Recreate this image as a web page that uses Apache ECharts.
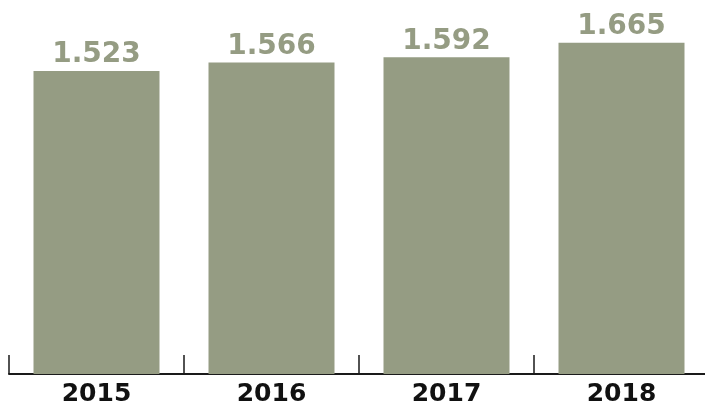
<!DOCTYPE html>
<html>
<head>
<meta charset="utf-8">
<script src="https://cdn.jsdelivr.net/npm/echarts@6/dist/echarts.min.js"></script>
<style>
  html, body { margin: 0; padding: 0; background: #fff; }
  #chart { width: 705px; height: 404px; }
</style>
</head>
<body>
<div id="chart"></div>
<script>
  // 数据
  const years = ['2015', '2016', '2017', '2018']
  const values = [1.523, 1.566, 1.592, 1.665]

  const barColor = '#959c83'

  const myChart = echarts.init(document.getElementById('chart'))
  const option = {
    animation: false,
    grid: {
      left: 9,
      right: -4,
      top: 16,
      bottom: 30,
      outerBoundsMode: 'none'
    },
    xAxis: {
      type: 'category',
      data: years,
      axisLine: {
        lineStyle: { color: '#1a1a1a', width: 2 }
      },
      axisTick: {
        show: true,
        inside: true,
        length: 19,
        lineStyle: { color: '#1a1a1a', width: 1.5 }
      },
      axisLabel: {
        margin: 8,
        color: '#111',
        fontFamily: 'DejaVu Sans',
        fontWeight: 'bold',
        fontSize: 25
      }
    },
    yAxis: {
      type: 'value',
      min: 0,
      max: 1.8,
      show: false,
      splitLine: { show: false }
    },
    series: [
      {
        type: 'bar',
        data: values,
        barWidth: '72%',
        itemStyle: { color: barColor },
        label: {
          show: true,
          position: 'top',
          distance: 2,
          color: barColor,
          fontFamily: 'DejaVu Sans',
          fontWeight: 'bold',
          fontSize: 28,
          formatter: p => p.value.toFixed(3)
        }
      }
    ]
  }
  myChart.setOption(option)
</script>
</body>
</html>
